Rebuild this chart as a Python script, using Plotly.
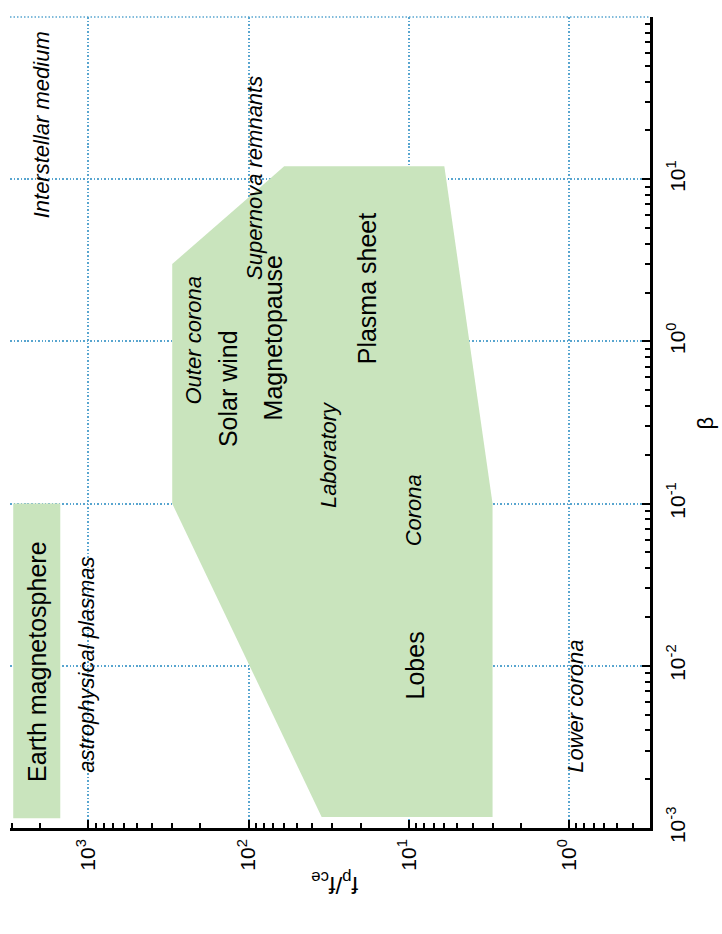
import numpy as np
import plotly.graph_objects as go

# Parameter-space region: plasma beta vs. f_p / f_ce
region_beta = [0.00117, 0.1, 12, 12, 3, 0.1, 0.00117]
region_fpfce = [3, 3, 6, 60, 300, 300, 35]

# Earth magnetosphere band
earth_beta = [0.00115, 0.00115, 0.1, 0.1]
earth_fpfce = [1500, 2950, 2950, 1500]

# Labels: text, beta, f_p/f_ce, italic
label_text = ["Interstellar medium", "Supernova remnants", "Outer corona", "Solar wind",
              "Magnetopause", "Plasma sheet", "Laboratory", "Corona", "Lobes",
              "Lower corona", "Earth magnetosphere", "astrophysical plasmas"]
label_beta = [21.6, 10.2, 1.02, 0.51, 1.05, 2.13, 0.2, 0.091, 0.0101, 0.00565, 0.0105, 0.0101]
label_fpfce = [1940, 91, 221, 134, 70, 18.2, 31.8, 9.4, 9.1, 0.92, 2080, 1040]
label_italic = [True, True, True, False, False, False, True, True, False, True, False, True]

major_vals = [1e-3, 1e-2, 1e-1, 1, 10, 100, 1000]
major_text = ["10<sup>-3</sup>", "10<sup>-2</sup>", "10<sup>-1</sup>", "10<sup>0</sup>",
              "10<sup>1</sup>", "10<sup>2</sup>", "10<sup>3</sup>"]
minor_vals = [m * 10.0 ** e for e in range(-4, 4) for m in range(2, 10)]

FONT = "Liberation Sans, Arial, sans-serif"
GREEN = "#c9e4bd"
GRID = "#58a5cf"

fig = go.Figure()
fig.add_trace(go.Scatter(x=region_fpfce, y=region_beta, fill="toself", fillcolor=GREEN,
                         mode="lines", line=dict(width=0, color=GREEN), hoverinfo="skip",
                         showlegend=False))
fig.add_trace(go.Scatter(x=earth_fpfce, y=earth_beta, fill="toself", fillcolor=GREEN,
                         mode="lines", line=dict(width=0, color=GREEN), hoverinfo="skip",
                         showlegend=False))

for txt, b, f, it in zip(label_text, label_beta, label_fpfce, label_italic):
    fig.add_annotation(x=np.log10(f), y=np.log10(b), xref="x", yref="y",
                       text=f"<i>{txt}</i>" if it else txt, showarrow=False,
                       textangle=-90,
                       font=dict(family=FONT, size=22 if it else 25, color="black"))

# Axis titles
fig.add_annotation(x=1.11, y=0.5, xref="paper", yref="paper", text="β", showarrow=False,
                   textangle=-90, font=dict(family=FONT, size=22, color="black"))
fig.add_annotation(x=0.508, y=-0.09, xref="paper", yref="paper",
                   text="f<sub>p</sub>/f<sub>ce</sub>", showarrow=False, textangle=180,
                   font=dict(family=FONT, size=24, color="black"))

# Grid line along the upper edge of the plot (beta = 10^2)
fig.add_shape(type="line", xref="paper", yref="paper", x0=0, x1=1, y0=1, y1=1,
              line=dict(color=GRID, width=1.5, dash="1.5px,2px"), layer="below")

axis_common = dict(
    type="log", tickmode="array", tickvals=major_vals, ticktext=major_text,
    tickangle=-90, ticks="inside", ticklen=8, tickwidth=2, tickcolor="black",
    showline=True, linecolor="black", linewidth=2.5, mirror=False,
    showgrid=True, gridcolor=GRID, griddash="1.5px,2px", gridwidth=1.5,
    zeroline=False, tickfont=dict(family=FONT, size=21, color="black"),
    minor=dict(tickmode="array", tickvals=minor_vals, ticks="inside", ticklen=5,
               tickwidth=1.5, tickcolor="black", showgrid=False),
)

fig.update_xaxes(range=[3.49, -0.506], side="bottom", **axis_common)
fig.update_yaxes(range=[-3, 2], side="right", ticklabelstandoff=7, **axis_common)

fig.update_layout(width=722, height=934, margin=dict(l=10, r=72, t=17, b=106),
                  paper_bgcolor="white", plot_bgcolor="white", showlegend=False)

fig.write_html("out.html")
